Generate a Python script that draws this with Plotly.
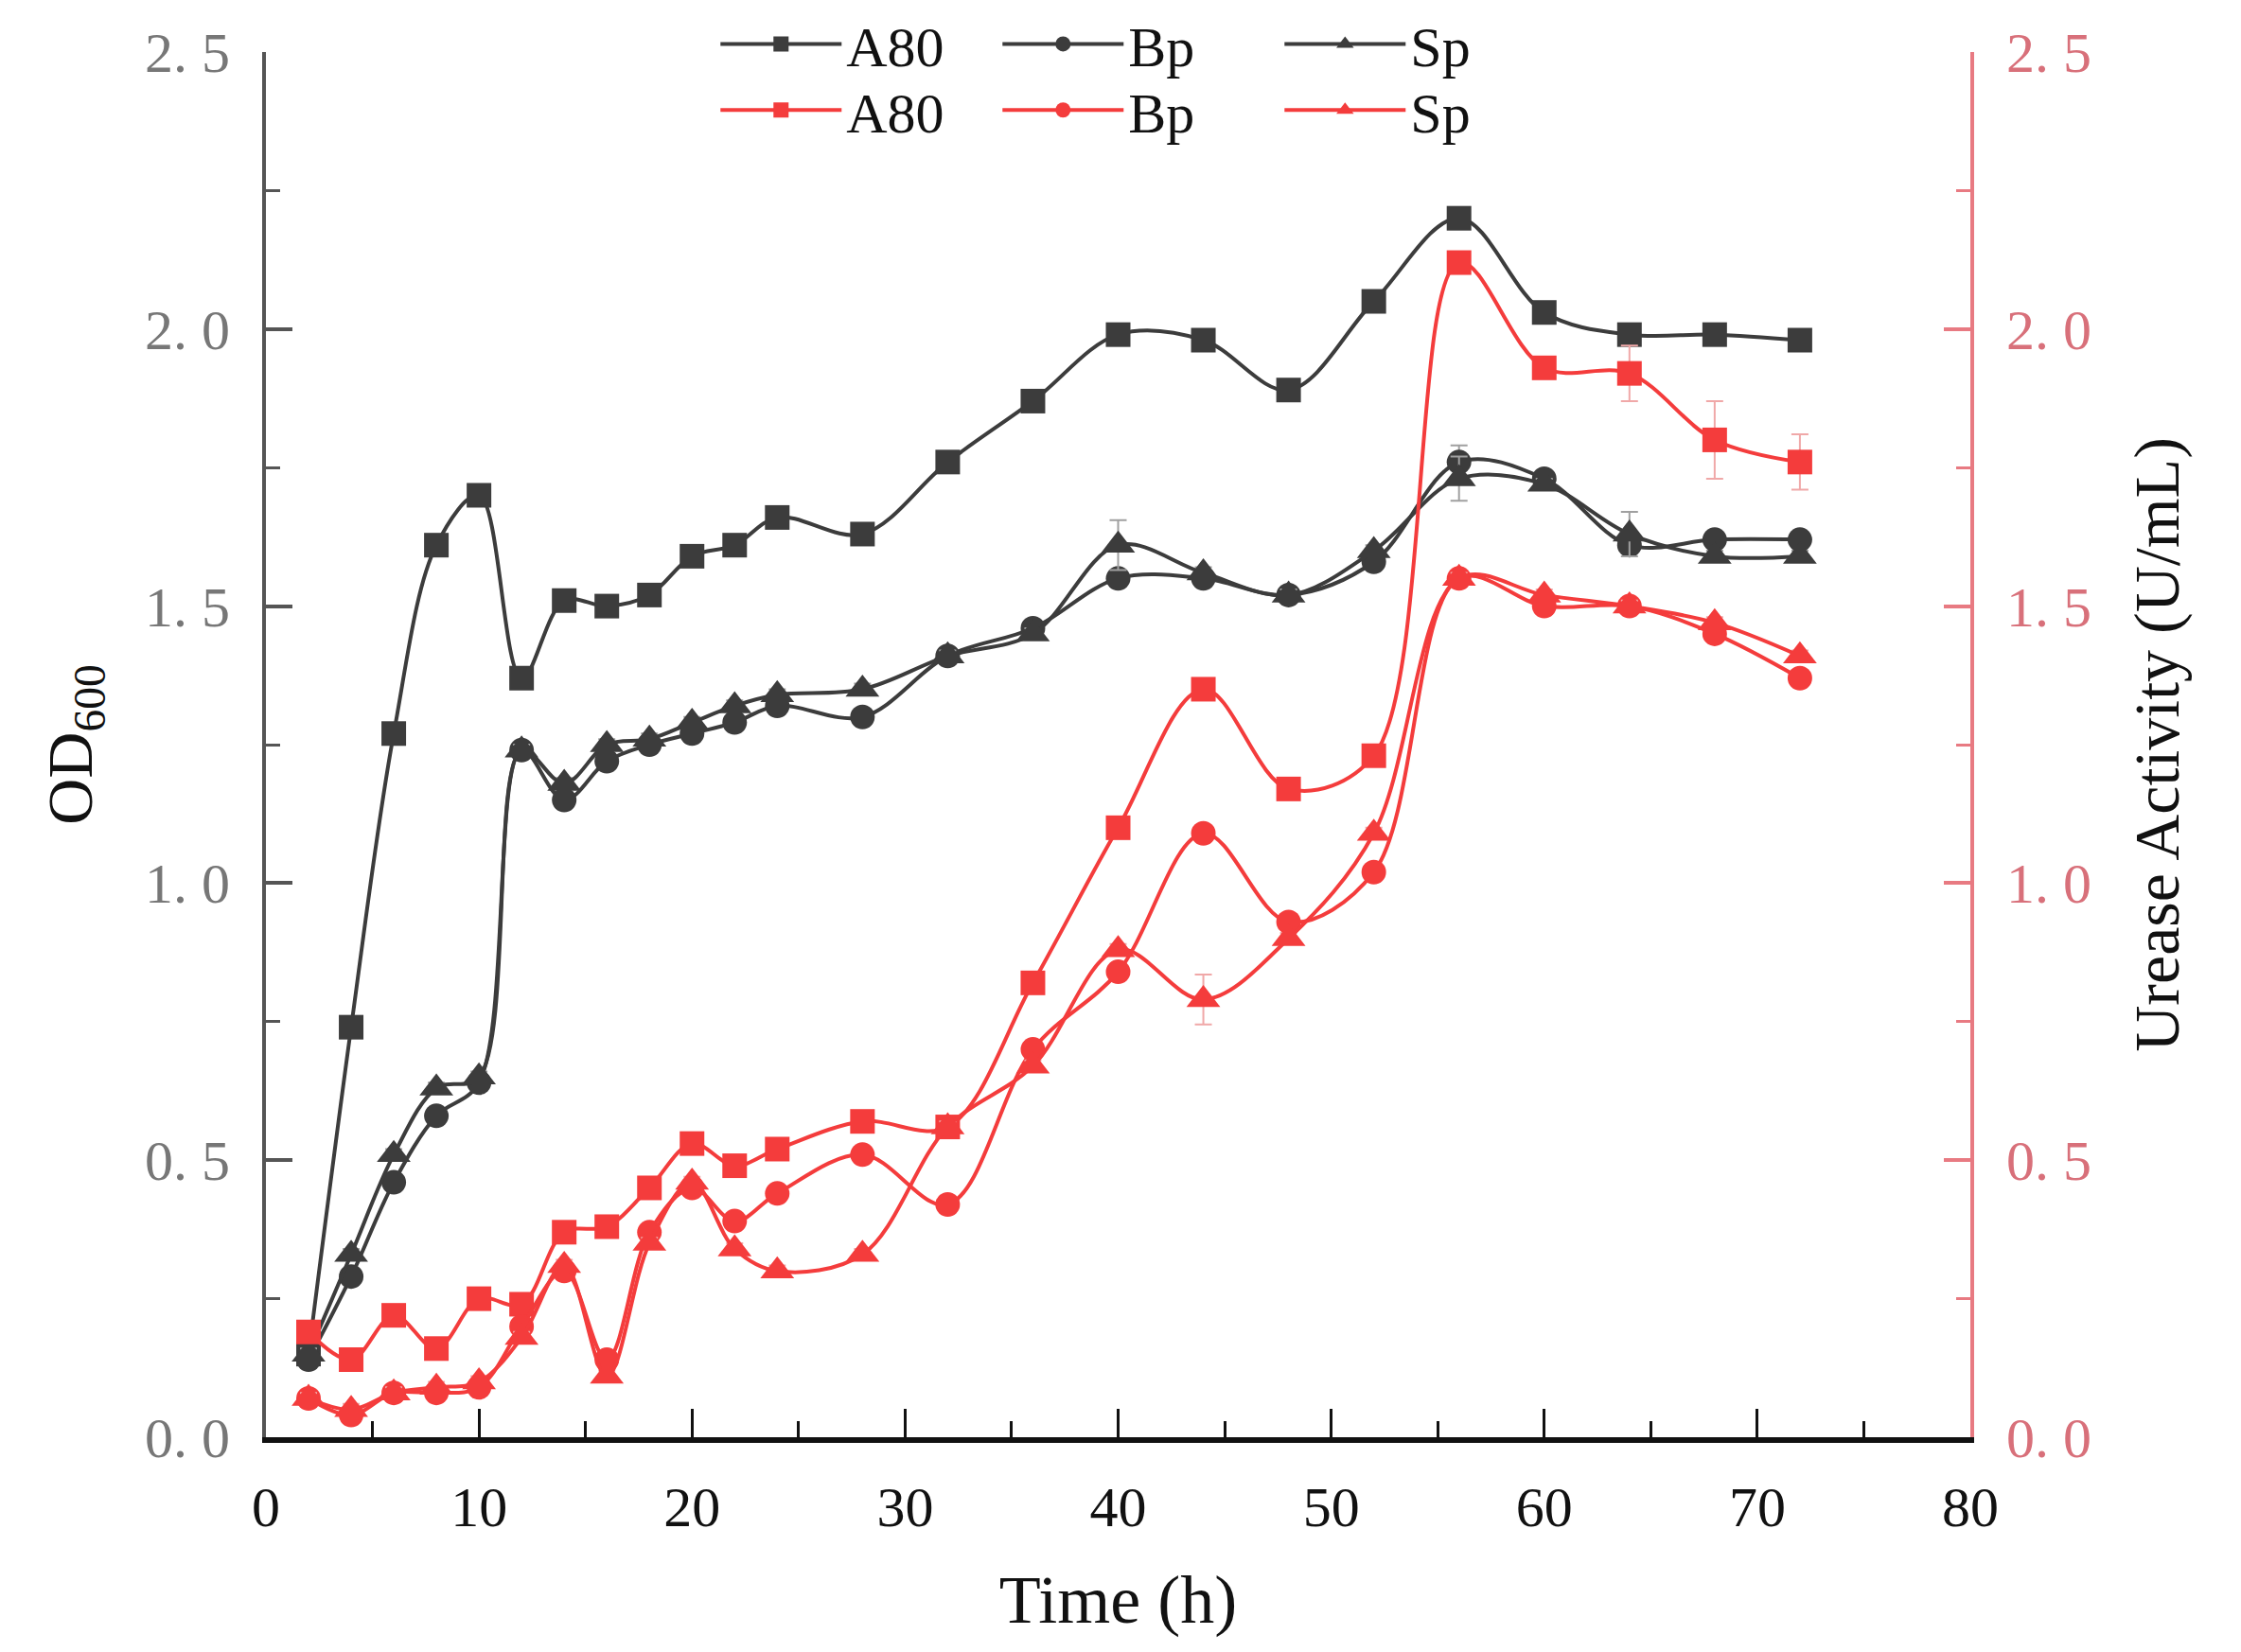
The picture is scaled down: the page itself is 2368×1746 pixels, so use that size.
import plotly.graph_objects as go

# temps de prélèvement (h)
time_h = [2, 4, 6, 8, 10, 12, 14, 16, 18, 20, 22, 24, 28, 32, 36, 40, 44, 48, 52, 56, 60, 64, 68, 72]

# OD600
od_a80 = [0.15, 0.74, 1.27, 1.61, 1.70, 1.37, 1.51, 1.50, 1.52, 1.59, 1.61, 1.66, 1.63, 1.76, 1.87, 1.99,
          1.98, 1.89, 2.05, 2.20, 2.03, 1.99, 1.99, 1.98]
od_bp = [0.14, 0.29, 0.46, 0.58, 0.64, 1.24, 1.15, 1.22, 1.25, 1.27, 1.29, 1.32, 1.30, 1.41, 1.46, 1.55,
         1.55, 1.52, 1.58, 1.76, 1.73, 1.61, 1.62, 1.62]
od_sp = [0.15, 0.33, 0.51, 0.63, 0.65, 1.24, 1.18, 1.25, 1.26, 1.29, 1.32, 1.34, 1.35, 1.41, 1.45, 1.61,
         1.56, 1.52, 1.60, 1.73, 1.72, 1.63, 1.59, 1.59]
od_a80_err = [0.01] * 24
od_bp_err = [0.01] * 19 + [0.03, 0.01, 0.01, 0.01, 0.01]
od_sp_err = [0.01] * 15 + [0.045, 0.01, 0.01, 0.01, 0.04, 0.01, 0.04, 0.01, 0.01]

# activité uréase (U/mL)
ur_a80 = [0.19, 0.14, 0.22, 0.16, 0.25, 0.24, 0.37, 0.38, 0.45, 0.53, 0.49, 0.52, 0.57, 0.56, 0.82, 1.10,
          1.35, 1.17, 1.23, 2.12, 1.93, 1.92, 1.80, 1.76]
ur_bp = [0.07, 0.04, 0.08, 0.08, 0.09, 0.20, 0.30, 0.14, 0.37, 0.45, 0.39, 0.44, 0.51, 0.42, 0.70, 0.84,
         1.09, 0.93, 1.02, 1.55, 1.50, 1.50, 1.45, 1.37]
ur_sp = [0.07, 0.05, 0.08, 0.09, 0.10, 0.18, 0.31, 0.11, 0.35, 0.46, 0.34, 0.30, 0.33, 0.56, 0.67, 0.88,
         0.79, 0.90, 1.09, 1.55, 1.52, 1.50, 1.47, 1.41]
ur_a80_err = [0.01] * 21 + [0.05, 0.07, 0.05]
ur_bp_err = [0.01] * 24
ur_sp_err = [0.01] * 16 + [0.045] + [0.01] * 7

names = ["A80", "Bp", "Sp"]
symbols = ["square", "circle", "triangle-up"]
sizes = [26, 26, 31]

y_ticks = [0, 0.5, 1.0, 1.5, 2.0, 2.5]
y_ticktext = ["0. 0", "0. 5", "1. 0", "1. 5", "2. 0", "2. 5"]

BLACK = "#3c3c3c"
RED = "#f43c3c"
FONT = "Liberation Serif"

fig = go.Figure()

for name, sym, sz, ys, err in zip(names, symbols, sizes, [od_a80, od_bp, od_sp],
                                  [od_a80_err, od_bp_err, od_sp_err]):
    fig.add_trace(go.Scatter(
        x=time_h, y=ys, name=name, mode="lines+markers",
        line=dict(color=BLACK, width=4, shape="spline", smoothing=1),
        marker=dict(symbol=sym, size=sz, color=BLACK),
        error_y=dict(type="data", array=err, color="#a0a0a0", thickness=2, width=9),
        legend="legend", yaxis="y",
    ))

for name, sym, sz, ys, err in zip(names, symbols, sizes, [ur_a80, ur_bp, ur_sp],
                                  [ur_a80_err, ur_bp_err, ur_sp_err]):
    fig.add_trace(go.Scatter(
        x=time_h, y=ys, name=name, mode="lines+markers",
        line=dict(color=RED, width=4, shape="spline", smoothing=1),
        marker=dict(symbol=sym, size=sz, color=RED),
        error_y=dict(type="data", array=err, color="#f0a8a8", thickness=2, width=9),
        legend="legend2", yaxis="y2",
    ))

# deux légendes (une par axe), placées par rapport à la page
leg = dict(orientation="h", xanchor="left", yanchor="middle", xref="container", yref="container", x=0.316,
           font=dict(family=FONT, size=60, color="#111"), bgcolor="rgba(0,0,0,0)",
           entrywidth=155, entrywidthmode="pixels", itemwidth=128, tracegroupgap=0)

fig.update_layout(
    width=2368, height=1746,
    paper_bgcolor="white", plot_bgcolor="white",
    margin=dict(l=273, r=294, t=47, b=235, autoexpand=False),
    font=dict(family=FONT, color="#111"),
    legend=dict(leg, y=0.978),
    legend2=dict(leg, y=0.938),
    xaxis=dict(
        range=[0, 80], tickvals=[0, 10, 20, 30, 40, 50, 60, 70, 80],
        showgrid=False, zeroline=False,
        showline=True, linecolor="#111", linewidth=6,
        ticks="inside", ticklen=30, tickwidth=3, tickcolor="#111",
        minor=dict(ticks="inside", ticklen=17, tickwidth=3, tickcolor="#111", dtick=5),
        tickfont=dict(family=FONT, size=60, color="#111"),
        ticklabelstandoff=16,
        title=dict(text="Time (h)", font=dict(family=FONT, size=72, color="#111"), standoff=42),
    ),
    yaxis=dict(
        range=[0, 2.5], tickvals=y_ticks, ticktext=y_ticktext,
        showgrid=False, zeroline=False,
        showline=True, linecolor="#555", linewidth=4,
        ticks="inside", ticklen=28, tickwidth=4, tickcolor="#555",
        minor=dict(ticks="inside", ticklen=15, tickwidth=3, tickcolor="#555", dtick=0.25),
        tickfont=dict(family=FONT, size=60, color="#777"),
        ticklabelstandoff=22,
        title=dict(text="OD<sub>600</sub>", font=dict(family=FONT, size=68, color="#111"), standoff=34),
    ),
    yaxis2=dict(
        range=[0, 2.5], tickvals=y_ticks, ticktext=y_ticktext,
        overlaying="y", side="right", anchor="x",
        showgrid=False, zeroline=False,
        showline=True, linecolor="#e87a82", linewidth=4,
        ticks="inside", ticklen=28, tickwidth=4, tickcolor="#e87a82",
        minor=dict(ticks="inside", ticklen=15, tickwidth=3, tickcolor="#e87a82", dtick=0.25),
        tickfont=dict(family=FONT, size=60, color="#d8707a"),
        ticklabelstandoff=22,
        title=dict(text="Urease Activity (U/mL)", font=dict(family=FONT, size=68, color="#111"), standoff=46),
    ),
)

fig.write_html("out.html")
